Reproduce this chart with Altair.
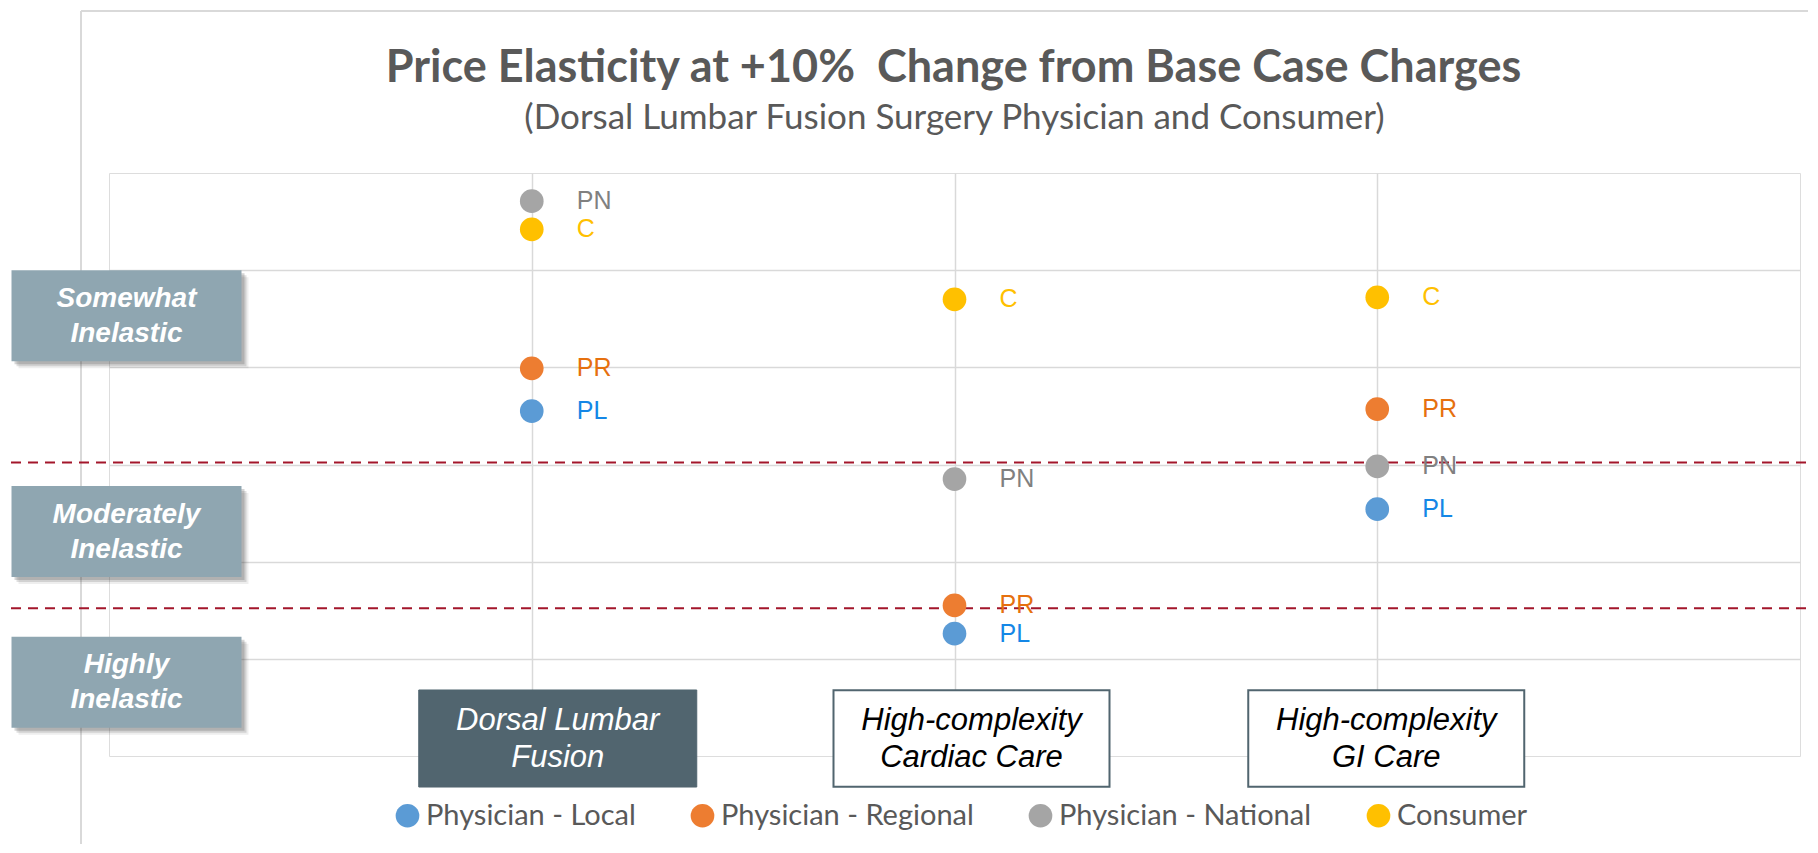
import altair as alt
import pandas as pd

# ---------------- data ----------------
title_text = "Price Elasticity at +10%\u00a0 Change from Base Case Charges"
subtitle_text = "(Dorsal Lumbar Fusion Surgery Physician and Consumer)"
categories = ["Dorsal Lumbar Fusion", "High-complexity Cardiac Care", "High-complexity GI Care"]
category_lines = ["Dorsal Lumbar\nFusion", "High-complexity\nCardiac Care", "High-complexity\nGI Care"]
series_names = ["Physician - Local", "Physician - Regional", "Physician - National", "Consumer"]
series_abbr = ["PL", "PR", "PN", "C"]
physician_local = [0.355, 0.126, 0.254]
physician_regional = [0.399, 0.155, 0.357]
physician_national = [0.571, 0.285, 0.298]
consumer = [0.542, 0.470, 0.472]
thresholds = [0.302, 0.152]
level_names = ["Somewhat\nInelastic", "Moderately\nInelastic", "Highly\nInelastic"]
level_centers = [0.453, 0.231, 0.076]

# ---------------- styling / layout ----------------
point_colors = ["#5B9BD5", "#ED7D31", "#A5A5A5", "#FFC000"]
label_colors = ["#1487E6", "#E6700E", "#808080", "#FFC000"]
GRID = "#D9D9D9"
W, H = 1691, 583
box_nudge_px = [26, 17, 9]   # category label boxes sit a little right of their gridline

rows = []
for s_i, vals in enumerate([physician_local, physician_regional, physician_national, consumer]):
    for c_i, v in enumerate(vals):
        rows.append({"category": categories[c_i], "pos": c_i + 1, "series": series_names[s_i],
                     "abbr": series_abbr[s_i], "value": v})
df = pd.DataFrame(rows)
cat_df = pd.DataFrame({"category": categories, "pos": [i + 1 for i in range(len(categories))],
                       "label": category_lines, "nudge": box_nudge_px})
lvl_df = pd.DataFrame({"level": level_names, "value": level_centers})
thr_df = pd.DataFrame({"value": thresholds})
ttl_df = pd.DataFrame({"title": [title_text], "subtitle": [subtitle_text]})

x_enc = alt.X("pos:Q", scale=alt.Scale(domain=[0, 4], nice=False),
              axis=alt.Axis(values=[1, 2, 3], labels=False, ticks=False, domain=False, grid=True,
                            gridColor=GRID, gridWidth=1.5, title=None))
y_enc = alt.Y("value:Q", scale=alt.Scale(domain=[0, 0.6], nice=False),
              axis=alt.Axis(values=[0.1, 0.2, 0.3, 0.4, 0.5], labels=False, ticks=False, domain=False,
                            grid=True, gridColor=GRID, gridWidth=1.5, title=None))

base = alt.Chart(df)

# outer chart-area frame
frame_v = alt.Chart(thr_df).mark_rule(color=GRID, strokeWidth=2).encode(
    x=alt.value(-28), y=alt.value(-162), y2=alt.value(H + 120))
frame_h = alt.Chart(thr_df).mark_rule(color=GRID, strokeWidth=2).encode(
    y=alt.value(-162), x=alt.value(-28), x2=alt.value(W + 40))

title_mark = alt.Chart(ttl_df).mark_text(
    font="Lato", fontSize=45, fontWeight="bold", color="#595959", align="center",
    baseline="alphabetic").encode(x=alt.value(W / 2 - 1), y=alt.value(-91), text="title:N")
subtitle_mark = alt.Chart(ttl_df).mark_text(
    font="Lato", fontSize=35, color="#595959", align="center",
    baseline="alphabetic").encode(x=alt.value(W / 2), y=alt.value(-44), text="subtitle:N")

grid_layer = base.mark_point(opacity=0).encode(x=x_enc, y=y_enc)

thr = alt.Chart(thr_df).mark_rule(color="#A3162B", strokeWidth=2, strokeDash=[10, 7]).encode(
    y=alt.Y("value:Q"), x=alt.value(-98), x2=alt.value(W + 40))

points = base.mark_circle(size=560, opacity=1).encode(
    x="pos:Q", y="value:Q",
    color=alt.Color("series:N", scale=alt.Scale(domain=series_names, range=point_colors),
                    legend=alt.Legend(title=None, orient="none", direction="horizontal",
                                      legendX=284, legendY=628,
                                      labelFont="Lato", labelFontSize=29, labelColor="#595959",
                                      labelLimit=0,
                                      symbolType="circle", symbolSize=560, symbolStrokeWidth=0,
                                      labelOffset=4, columnPadding=52)))

labels = base.mark_text(align="left", baseline="middle", dx=45, fontSize=25,
                        font="Liberation Sans").encode(
    x="pos:Q", y="value:Q", text="abbr:N",
    color=alt.Color("series:N", scale=alt.Scale(domain=series_names, range=label_colors), legend=None))

cat_base = alt.Chart(cat_df).transform_calculate(bx=f"datum.pos + datum.nudge / {W / 4}")
BOX_SHAPE = "M-1,-0.349L1,-0.349L1,0.349L-1,0.349Z"
cat_main = cat_base.transform_filter(alt.datum.pos == 1).mark_point(
    shape=BOX_SHAPE, size=278 * 278, fill="#51656F", stroke="#51656F", strokeWidth=1,
    opacity=1).encode(x="bx:Q", y=alt.datum(0.018))
cat_other = cat_base.transform_filter(alt.datum.pos != 1).mark_point(
    shape=BOX_SHAPE, size=276 * 276, fill="white", stroke="#51656F", strokeWidth=2,
    opacity=1).encode(x="bx:Q", y=alt.datum(0.018))
cat_text = cat_base.mark_text(
    font="Liberation Sans", fontStyle="italic", fontSize=31, lineBreak="\n", lineHeight=37,
    align="center", baseline="middle", dy=-18).encode(
    x="bx:Q", y=alt.datum(0.018), text="label:N",
    color=alt.condition(alt.datum.pos == 1, alt.value("white"), alt.value("black")))

LVL_SHAPE = "M-1,-0.3957L1,-0.3957L1,0.3957L-1,0.3957Z"
shadows = []
for off, op in [(3, 0.22), (5, 0.16), (7, 0.09)]:
    shadows.append(alt.Chart(lvl_df).mark_point(
        shape=LVL_SHAPE, size=230 * 230, fill="#404040", strokeWidth=0, opacity=op,
        xOffset=off, yOffset=off).encode(x=alt.value(17.5), y="value:Q"))
lvl_box = alt.Chart(lvl_df).mark_point(
    shape=LVL_SHAPE, size=230 * 230, fill="#8FA6B1", strokeWidth=0, opacity=1).encode(
    x=alt.value(17.5), y="value:Q")
lvl_text = alt.Chart(lvl_df).mark_text(
    font="Liberation Sans", fontStyle="italic", fontWeight="bold", fontSize=28, color="white",
    lineBreak="\n", lineHeight=35, align="center", baseline="middle", dy=-17).encode(
    x=alt.value(17.5), y="value:Q", text="level:N")

chart = alt.layer(
    grid_layer, frame_v, frame_h, title_mark, subtitle_mark, thr, points, labels,
    cat_main, cat_other, cat_text, *shadows, lvl_box, lvl_text
).resolve_scale(color="independent").properties(
    width=W, height=H,
    padding={"left": 101, "top": 165, "right": 8, "bottom": 88},
    autosize=alt.AutoSizeParams(type="none"),
).configure_view(stroke=GRID, strokeWidth=1.5).configure(background="white")

chart.save("out.html", embed_options={"renderer": "svg", "actions": False})
